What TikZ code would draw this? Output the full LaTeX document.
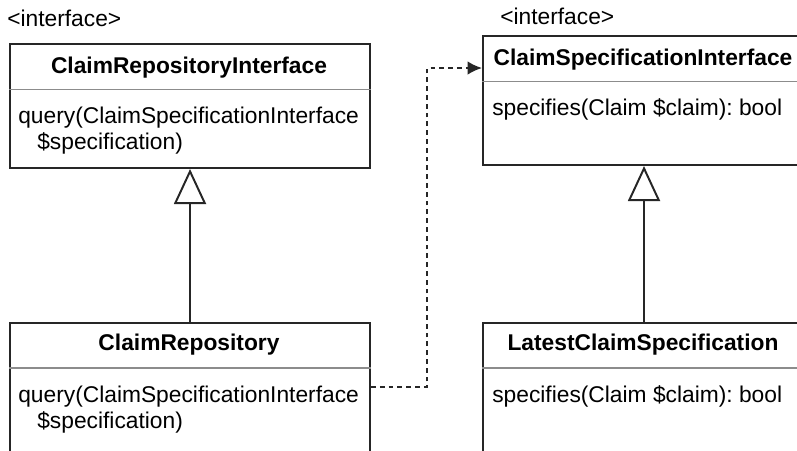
\documentclass[tikz,border=0pt]{standalone}
\usepackage{fontspec}
\setmainfont{Liberation Sans}
\usetikzlibrary{arrows.meta,positioning,calc}
\frenchspacing

\newcommand\diagfont{\fontsize{16.2pt}{17.8pt}\selectfont}

\tikzset{
  classbox/.style={draw=black!85, line width=1.4pt, anchor=north west, inner sep=0pt},
  classname/.style={font=\diagfont\bfseries, anchor=base, inner sep=0pt},
  member/.style={anchor=base west, inner sep=0pt, align=left},
  stereo/.style={anchor=base west, inner sep=0pt},
  sepline/.style={draw=black!45, line width=0.8pt},
  implline/.style={draw=black!85, line width=1.4pt,
    -{Triangle[open, length=0.875cm, width=0.8cm, line width=1.4pt]}},
  depline/.style={draw=black!85, line width=1.4pt, dash pattern=on 1.2mm off 1mm,
    -{Latex[length=0.36cm, width=0.34cm]}}
}

\begin{document}
\begin{tikzpicture}[x=0.025cm, y=-0.025cm, font=\diagfont]
  % 1 unit = 1px of the 797x450 frame
  \useasboundingbox (0,0) rectangle (797,450);
  \clip (0,0) rectangle (797,450);
  \def\titleh{1.17cm}

  % Interfaces
  \node[stereo] (repoif-st) at (7,26) {<interface>};
  \node[classbox, minimum width=9cm, minimum height=3.1cm] (repoif) at (9,43) {};
  \node[classname] (repoif-name) at (189,73) {ClaimRepositoryInterface};
  % base anchor sits on the last line
  \node[member] (repoif-op) at (18,149)
    {query(ClaimSpecificationInterface\\\hspace*{0.475cm}\$specification)};
  \draw[sepline] ([yshift=-\titleh]repoif.north west) -- ([yshift=-\titleh]repoif.north east);

  \node[stereo] (specif-st) at (500,24) {<interface>};
  \node[classbox, minimum width=8.05cm, minimum height=3.225cm] (specif) at (482,35) {};
  \node[classname] (specif-name) at (643,65) {ClaimSpecificationInterface};
  \node[member] (specif-op) at (492,115) {specifies(Claim \$claim): bool};
  \draw[sepline] ([yshift=-\titleh]specif.north west) -- ([yshift=-\titleh]specif.north east);

  % Implementations
  \node[classbox, minimum width=9cm, minimum height=3.75cm] (repo) at (9,322) {};
  \node[classname] (repo-name) at (189,350) {ClaimRepository};
  \node[member] (repo-op) at (18,428)
    {query(ClaimSpecificationInterface\\\hspace*{0.475cm}\$specification)};
  \draw[sepline] ([yshift=-1.15cm]repo.north west) -- ([yshift=-1.15cm]repo.north east);

  \node[classbox, minimum width=8.05cm, minimum height=3.75cm] (latest) at (482,322) {};
  \node[classname] (latest-name) at (643,350) {LatestClaimSpecification};
  \node[member] (latest-op) at (492,402) {specifies(Claim \$claim): bool};
  \draw[sepline] ([yshift=-1.15cm]latest.north west) -- ([yshift=-1.15cm]latest.north east);

  % Realization
  \draw[implline] (repo.north) -- (repoif.south);
  \draw[implline] (latest.north) -- (specif.south);

  % Dependency
  \draw[depline] ([yshift=-1.625cm]repo.north east) -- ++(56,0)
    |- ([yshift=-0.825cm]specif.north west);
\end{tikzpicture}
\end{document}
